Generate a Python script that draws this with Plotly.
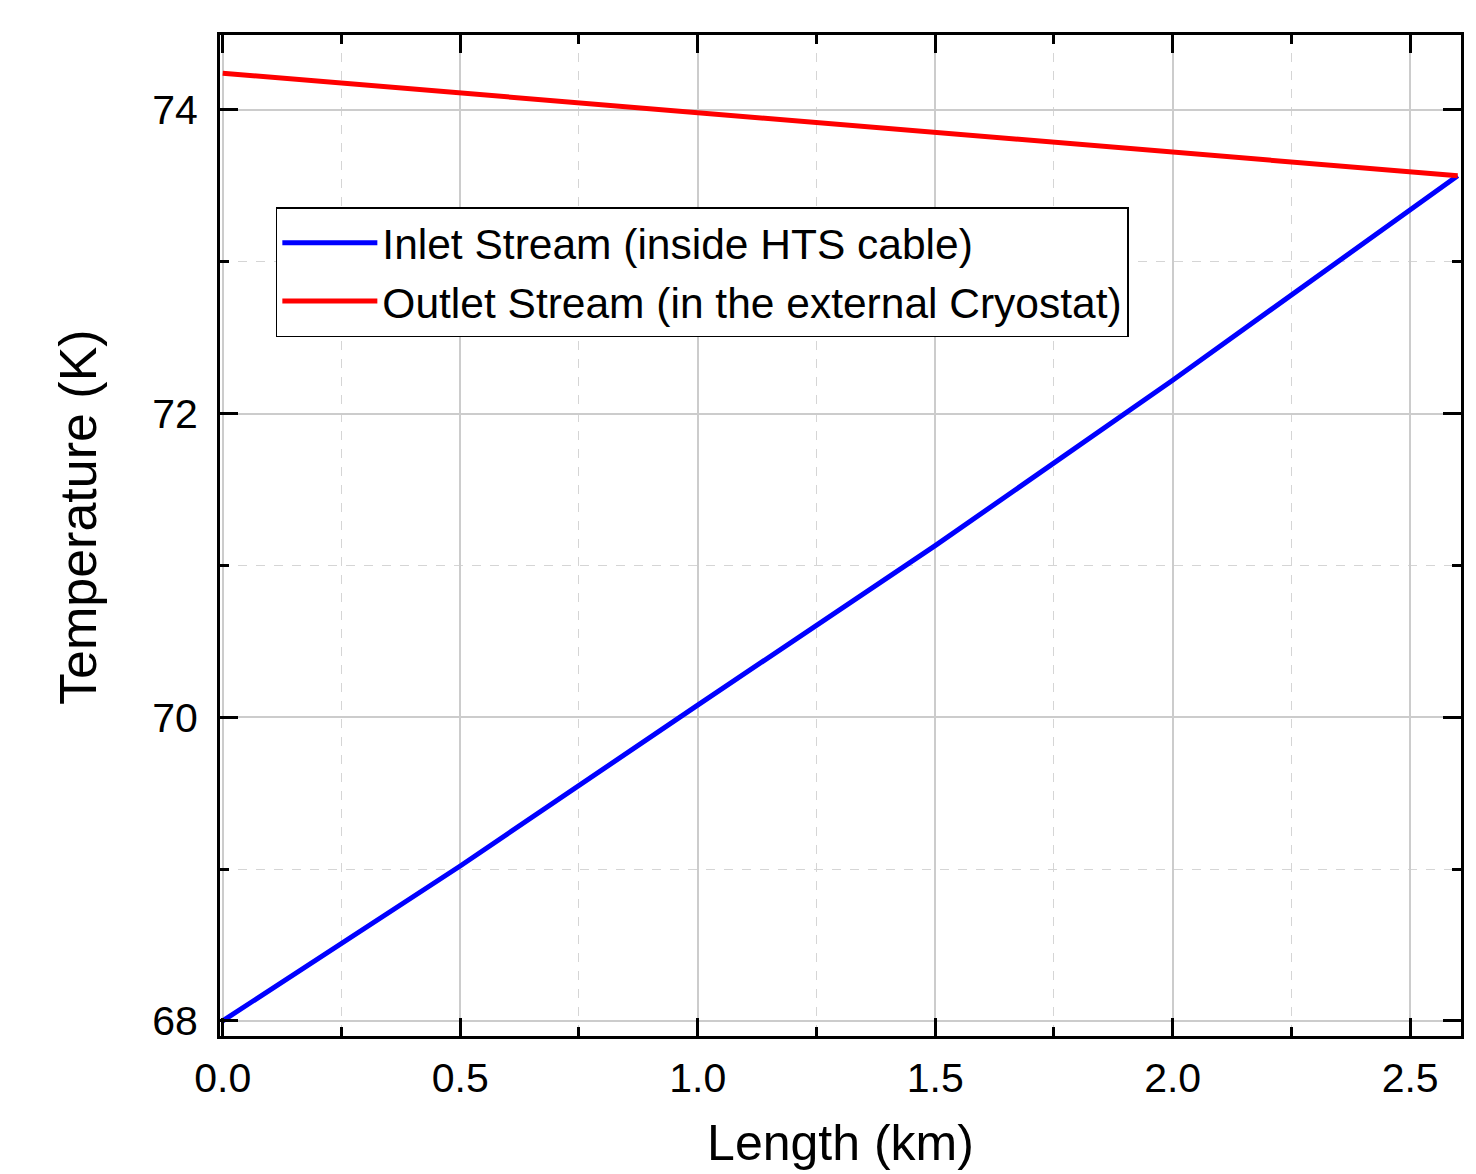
import plotly.graph_objects as go

# Data
length_km = [0.0, 0.5, 1.0, 1.5, 2.0, 2.5, 2.6]
inlet_K = [68.00, 69.02, 70.08, 71.13, 72.22, 73.34, 73.567]
outlet_K = [74.242, 74.112, 73.982, 73.852, 73.722, 73.593, 73.567]

inlet_name = "Inlet Stream (inside HTS cable)"
outlet_name = "Outlet Stream (in the external Cryostat)"
x_title = "Length (km)"
y_title = "Temperature (K)"

FONT = "Liberation Sans, Arial, sans-serif"

fig = go.Figure()
fig.add_trace(go.Scatter(x=length_km, y=inlet_K, mode="lines", name=inlet_name,
                         line=dict(color="#0000FF", width=5)))
fig.add_trace(go.Scatter(x=length_km, y=outlet_K, mode="lines", name=outlet_name,
                         line=dict(color="#FF0000", width=5)))

axis_common = dict(
    automargin=False,
    showline=True, linecolor="black", linewidth=3, mirror="allticks",
    ticks="inside", ticklen=18, tickwidth=3, tickcolor="black",
    showgrid=True, gridcolor="#cccccc", gridwidth=1.5,
    zeroline=False,
    tickfont=dict(family=FONT, size=41, color="black"),
)

fig.update_xaxes(
    **axis_common,
    range=[-0.0057, 2.607], tick0=0, dtick=0.5, tickformat=".1f",
    minor=dict(dtick=0.25, ticks="inside", ticklen=9, tickwidth=3, tickcolor="black",
               showgrid=True, gridcolor="#d5d5d5", gridwidth=1, griddash="dash"),
    ticklabelstandoff=4,
    title=dict(text=x_title, standoff=25,
               font=dict(family=FONT, size=50, color="black")),
)
fig.update_yaxes(
    **axis_common,
    range=[67.9, 74.494], tick0=68, dtick=2,
    minor=dict(dtick=1, ticks="inside", ticklen=9, tickwidth=3, tickcolor="black",
               showgrid=True, gridcolor="#d5d5d5", gridwidth=1, griddash="dash"),
    ticklabelstandoff=11,
)

# Y axis title placed as an annotation to sit slightly above the plot's centre, as in the reference
fig.add_annotation(
    text=y_title, xref="paper", yref="paper", x=-0.1144, y=0.5185,
    xanchor="center", yanchor="middle", textangle=-90, showarrow=False,
    font=dict(family=FONT, size=52, color="black"),
)

# The page body has an 8px default margin, so the figure is sized to fit inside it.
fig.update_layout(
    width=1468, height=1166,
    margin=dict(l=212, r=15, t=27, b=138),
    paper_bgcolor="white", plot_bgcolor="white",
    showlegend=True,
    legend=dict(
        x=0.045, y=0.828, xanchor="left", yanchor="top",
        bgcolor="white", bordercolor="black", borderwidth=1.5,
        font=dict(family=FONT, size=42.5, color="black"),
        itemwidth=95, tracegroupgap=0,
    ),
)

fig.write_html("out.html")
